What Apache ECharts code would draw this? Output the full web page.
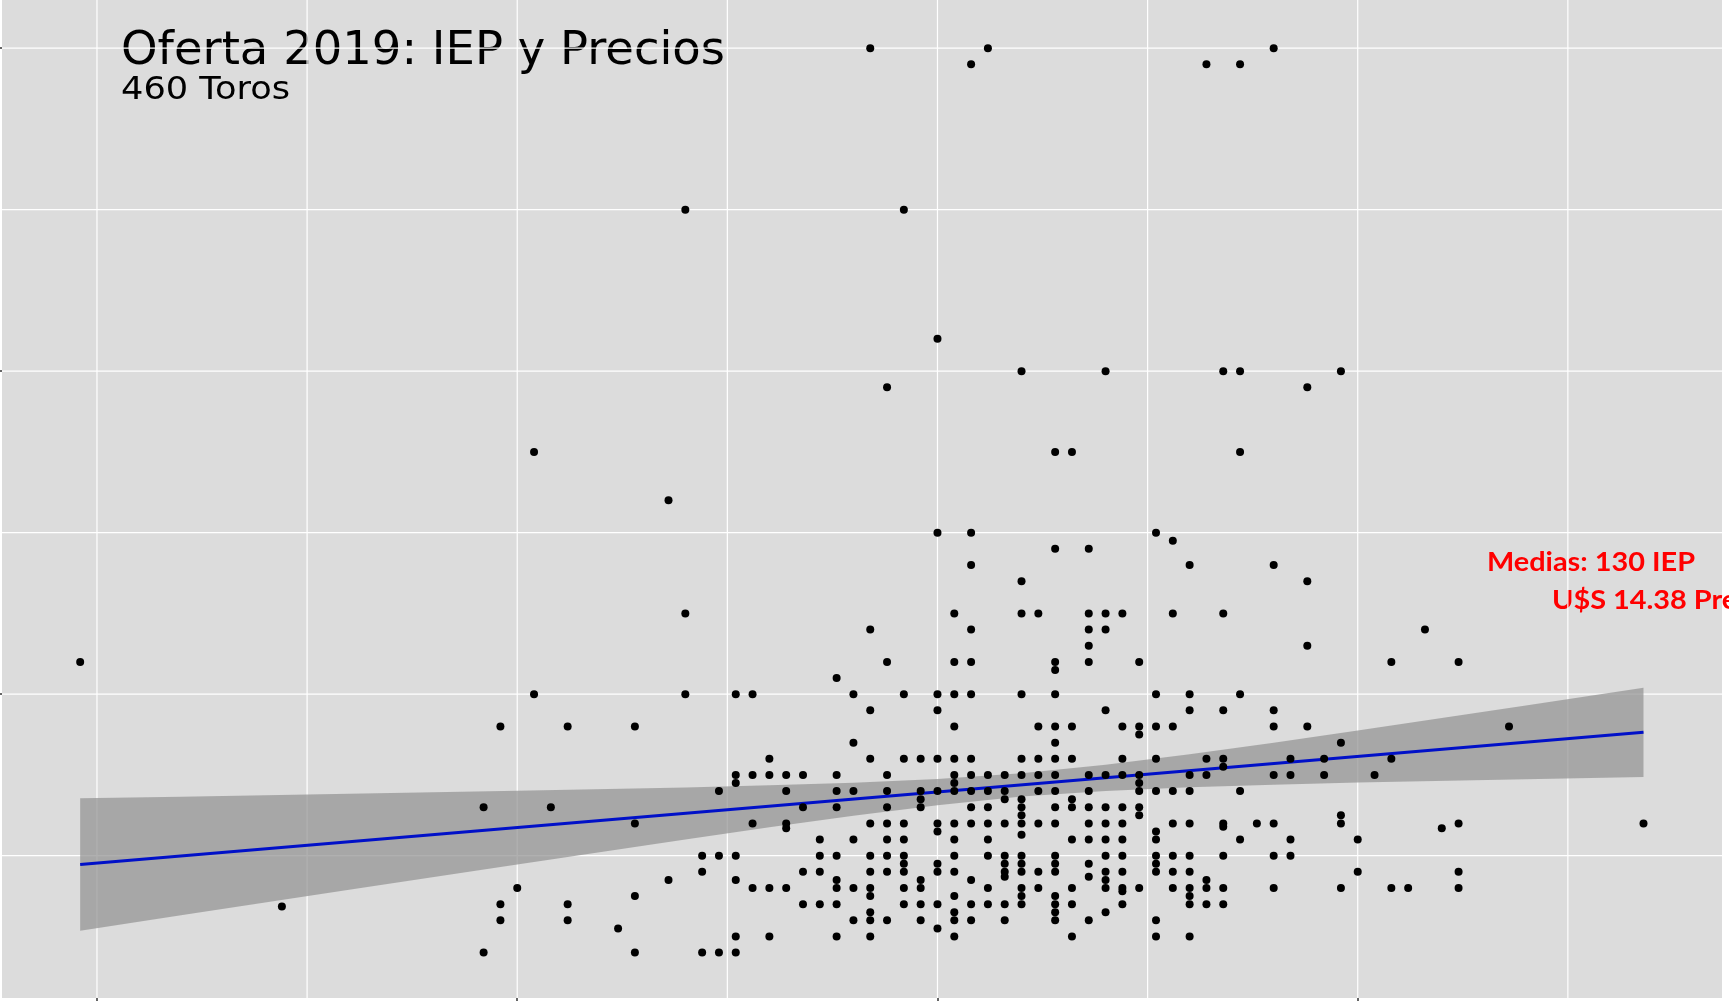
<!DOCTYPE html>
<html>
<head>
<meta charset="utf-8">
<script src="https://cdn.jsdelivr.net/npm/echarts@6/dist/echarts.min.js"></script>
<style>
  html, body { margin: 0; padding: 0; background: #fff; }
  #chart { width: 1729px; height: 1001px; }
</style>
</head>
<body>
<div id="chart"></div>
<script>
// IEP de cada toro (una linea por valor de IEP)
const iep = [
  74,
  86,
  98, 98,
  99, 99, 99,
  100,
  101, 101,
  102,
  103, 103, 103,
  106,
  107, 107, 107, 107,
  109, 109,
  110, 110, 110,
  111, 111, 111,
  112, 112, 112,
  113, 113, 113, 113, 113, 113, 113,
  114, 114, 114, 114,
  115, 115, 115, 115,
  116, 116, 116, 116, 116,
  117, 117, 117, 117,
  118, 118, 118, 118,
  119, 119, 119, 119, 119, 119, 119, 119, 119,
  120, 120, 120, 120, 120, 120,
  121, 121, 121, 121, 121, 121, 121, 121, 121, 121, 121, 121,
  122, 122, 122, 122, 122, 122, 122, 122, 122, 122,
  123, 123, 123, 123, 123, 123, 123, 123, 123, 123,
  124, 124, 124, 124, 124, 124, 124, 124,
  125, 125, 125, 125, 125, 125, 125, 125, 125, 125, 125, 125,
  126, 126, 126, 126, 126, 126, 126, 126, 126, 126, 126, 126, 126, 126, 126, 126,
  127, 127, 127, 127, 127, 127, 127, 127, 127, 127, 127, 127, 127, 127,
  128, 128, 128, 128, 128, 128, 128, 128, 128,
  129, 129, 129, 129, 129, 129, 129, 129, 129, 129,
  130, 130, 130, 130, 130, 130, 130, 130, 130, 130, 130, 130, 130, 130, 130, 130, 130,
  131, 131, 131, 131, 131, 131, 131, 131,
  132, 132, 132, 132, 132, 132, 132, 132, 132, 132, 132, 132, 132, 132, 132, 132, 132, 132, 132,
  133, 133, 133, 133, 133, 133, 133, 133, 133,
  134, 134, 134, 134, 134, 134, 134, 134, 134, 134, 134, 134, 134,
  135, 135, 135, 135, 135, 135, 135, 135, 135, 135, 135, 135, 135,
  136, 136, 136, 136, 136, 136, 136, 136, 136, 136, 136, 136,
  137, 137, 137, 137, 137, 137, 137, 137, 137,
  138, 138, 138, 138, 138, 138, 138, 138, 138, 138, 138, 138,
  139, 139, 139, 139, 139, 139, 139, 139,
  140, 140, 140, 140, 140, 140, 140, 140, 140, 140, 140, 140,
  141, 141, 141, 141, 141, 141,
  142, 142, 142, 142, 142, 142, 142, 142, 142, 142,
  143, 143, 143, 143, 143, 143,
  144,
  145, 145, 145, 145, 145, 145, 145, 145,
  146, 146, 146, 146,
  147, 147, 147, 147,
  148, 148,
  149, 149, 149, 149, 149,
  150, 150,
  151,
  152, 152, 152,
  153,
  154,
  155,
  156, 156, 156, 156,
  159,
  167
];

// Precio de cada toro, en el mismo orden (U$S)
const precio = [
  22,
  6.85,
  13, 4,
  18, 7, 6,
  8,
  35, 20,
  13,
  18, 7, 6,
  5.5,
  18, 12, 7.5, 4,
  32, 8.5,
  50, 25, 20,
  10, 9, 4,
  14, 10, 4,
  20, 15, 14.5, 10, 8.5, 5, 4,
  20, 15, 12, 8,
  16, 15, 8, 5,
  15, 14, 12, 11.7, 8,
  15, 13, 9, 7,
  11, 10, 9, 7,
  21, 15, 14, 13, 10, 8.5, 8, 7, 5,
  20, 17, 14, 11, 8, 6,
  60, 24, 19, 16, 12, 10, 9, 8, 7.5, 6.5, 6, 5,
  39, 22, 15, 14, 13, 12, 11, 10, 9, 6,
  50, 20, 16, 12, 11, 10, 9.5, 9, 8, 7,
  16, 14, 13.5, 13, 8.5, 8, 7, 6,
  42, 30, 20, 19, 16, 14, 12, 11.5, 9.5, 9, 7, 5.5,
  25, 22, 20, 18, 16, 15, 14.5, 14, 12, 11, 10, 9, 7.5, 6.5, 6, 5,
  59, 30, 28, 24, 22, 20, 16, 15, 14, 13, 12, 8.5, 7, 6,
  60, 15, 14, 13, 12, 11, 10, 8, 7,
  15, 14, 13.5, 12, 10, 9.5, 9, 8.7, 7, 6,
  40, 27, 25, 20, 16, 15, 13.5, 13, 12.5, 12, 11.3, 10, 9.5, 9, 8, 7.5, 7,
  25, 18, 16, 15, 14, 12, 9, 8,
  35, 29, 22, 21.5, 20, 18, 17, 16, 15, 14, 13, 12, 10, 9.5, 9, 7.5, 7, 6.5, 6,
  35, 18, 16, 13.5, 13, 11, 8, 7, 5,
  29, 25, 24, 23, 22, 15, 14, 13, 12, 11, 9.5, 8.7, 6,
  40, 25, 24, 19, 15, 13, 12, 11, 10, 9, 8.5, 8, 6.5,
  25, 18, 16, 15, 13, 12, 11, 10, 9, 8, 7.8, 7,
  22, 18, 17.5, 15, 14.5, 14, 13, 12.5, 8,
  30, 20, 18, 16, 14, 11.5, 11, 10, 9.5, 9, 6, 5,
  29.5, 25, 18, 14, 12, 10, 9, 8,
  28, 20, 19, 15, 14, 12, 10, 9, 8, 7.5, 7, 5,
  59, 16, 15, 8.5, 8, 7,
  40, 25, 19, 16, 15.5, 12, 11.8, 10, 8, 7,
  59, 40, 35, 20, 14, 11,
  12,
  60, 28, 19, 18, 15, 12, 10, 8,
  16, 15, 11, 10,
  39, 27, 23, 18,
  16, 15,
  40, 17, 12.5, 12, 8,
  11, 9,
  15,
  22, 16, 8,
  8,
  24,
  11.7,
  22, 12, 9, 8,
  18,
  12
];

// recta de regresion (extremos)
const ajusteIep = [74, 167];
const ajustePrecio = [9.45, 17.64];

// banda de confianza
const bandaIep  = [74, 80, 90, 100, 110, 115, 120, 125, 130, 135, 140, 145, 150, 160, 167];
const bandaBaja = [5.35, 6.31, 7.89, 9.46, 11.01, 11.76, 12.48, 13.13, 13.66, 14.01, 14.24, 14.40, 14.53, 14.74, 14.88];
const bandaAlta = [13.55, 13.65, 13.83, 14.02, 14.23, 14.36, 14.52, 14.75, 15.10, 15.63, 16.28, 17.00, 17.75, 19.30, 20.40];

// rejilla y marcas de los ejes
const rejillaX = [75, 87.5, 100, 112.5, 125, 137.5, 150, 162.5];
const rejillaY = [10, 20, 30, 40, 50, 60];
const marcasX = [75, 100, 125, 150];
const marcasY = [20, 40, 60];

const xMin = 69.35, xMax = 171.67;
const yMin = 1.19, yMax = 62.98;

const puntos = iep.map((x, i) => [x, precio[i]]);
const ajuste = ajusteIep.map((x, i) => [x, ajustePrecio[i]]);

// escala horizontal para que el texto ocupe el mismo ancho que en la imagen
function escala(texto, fuente, anchoObjetivo) {
  const ctx = document.createElement('canvas').getContext('2d');
  ctx.font = fuente;
  return anchoObjetivo / ctx.measureText(texto).width;
}

const fTitulo = '46px "DejaVu Sans"';
const fSub = '32px "DejaVu Sans"';
const fRojo = 'bold 27px Lato';

const chart = echarts.init(document.getElementById('chart'));

chart.setOption({
  animation: false,
  backgroundColor: '#fff',
  grid: {
    left: 2, top: 0, width: 1720, height: 998,
    show: true, backgroundColor: '#DCDCDC', borderWidth: 0,
    containLabel: false, outerBoundsMode: 'none'
  },
  xAxis: {
    type: 'value', min: xMin, max: xMax,
    axisLine: { show: false },
    splitLine: { show: false },
    axisLabel: { show: false },
    axisTick: { show: true, customValues: marcasX, length: 4, lineStyle: { color: '#333', width: 1.5 } }
  },
  yAxis: {
    type: 'value', min: yMin, max: yMax,
    axisLine: { show: false },
    splitLine: { show: false },
    axisLabel: { show: false },
    axisTick: { show: true, customValues: marcasY, length: 4, lineStyle: { color: '#333', width: 1.5 } }
  },
  series: [
    {
      type: 'custom', z: 1, silent: true,
      data: rejillaX.map(v => [v, yMin]),
      renderItem(params, api) {
        const p = api.coord([api.value(0), api.value(1)]);
        const cs = params.coordSys;
        return { type: 'line', shape: { x1: p[0], y1: cs.y, x2: p[0], y2: cs.y + cs.height },
                 style: { stroke: '#fff', lineWidth: 1.2 } };
      }
    },
    {
      type: 'custom', z: 1, silent: true,
      data: rejillaY.map(v => [xMin, v]),
      renderItem(params, api) {
        const p = api.coord([api.value(0), api.value(1)]);
        const cs = params.coordSys;
        return { type: 'line', shape: { x1: cs.x, y1: p[1], x2: cs.x + cs.width, y2: p[1] },
                 style: { stroke: '#fff', lineWidth: 1.2 } };
      }
    },
    {
      type: 'custom', z: 2, silent: true,
      data: [[bandaIep[0], bandaBaja[0]]],
      renderItem(params, api) {
        const arriba = bandaIep.map((x, i) => api.coord([x, bandaAlta[i]]));
        const abajo = bandaIep.map((x, i) => api.coord([x, bandaBaja[i]])).reverse();
        return { type: 'polygon', shape: { points: arriba.concat(abajo) },
                 style: { fill: 'rgba(150,150,150,0.75)' } };
      }
    },
    {
      type: 'line', z: 3, silent: true,
      data: ajuste, symbol: 'none',
      lineStyle: { color: '#0010C8', width: 3 }
    },
    {
      type: 'scatter', z: 4,
      data: puntos, symbolSize: 8,
      itemStyle: { color: '#000', opacity: 1 }
    }
  ],
  graphic: [
    {
      type: 'text', x: 121, y: 52, scaleX: escala('Oferta 2019: IEP y Precios', fTitulo, 604),
      style: { text: 'Oferta 2019: IEP y Precios', font: fTitulo, fill: '#000',
               textAlign: 'left', textVerticalAlign: 'middle', verticalAlign: 'middle' }
    },
    {
      type: 'text', x: 121, y: 91, scaleX: escala('460 Toros', fSub, 169),
      style: { text: '460 Toros', font: fSub, fill: '#000',
               textAlign: 'left', textVerticalAlign: 'middle', verticalAlign: 'middle' }
    },
    {
      type: 'text', x: 1487, y: 562, scaleX: escala('Medias: 130 IEP', fRojo, 208),
      style: { text: 'Medias: 130 IEP', font: fRojo, fill: '#FF0000',
               textAlign: 'left', textVerticalAlign: 'middle', verticalAlign: 'middle' }
    },
    {
      type: 'text', x: 1552, y: 600, scaleX: escala('Medias: 130 IEP', fRojo, 208),
      style: { text: 'U$S 14.38 Precio', font: fRojo, fill: '#FF0000',
               textAlign: 'left', textVerticalAlign: 'middle', verticalAlign: 'middle' }
    }
  ]
});
</script>
</body>
</html>
